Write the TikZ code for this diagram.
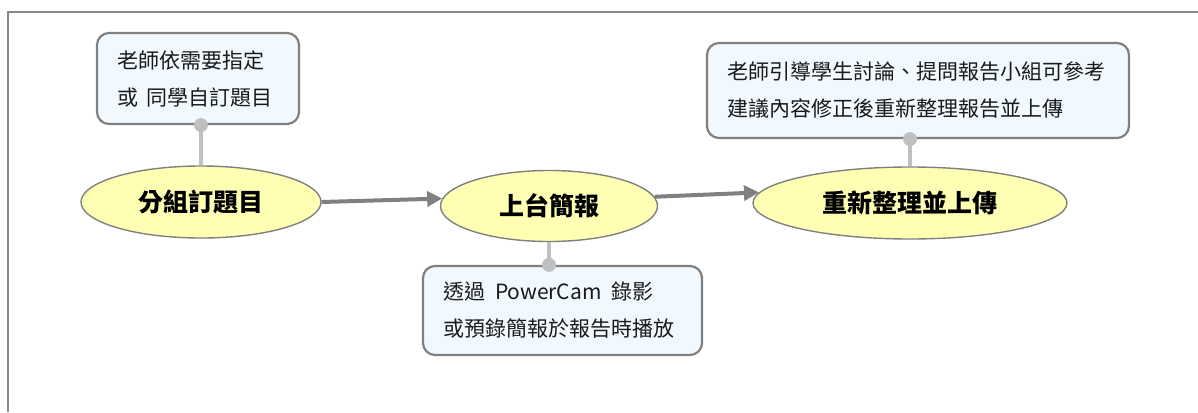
\documentclass[tikz,border=0pt]{standalone}
\usepackage{fontspec}
\setmainfont{Noto Sans CJK TC}
\usetikzlibrary{shapes.geometric,arrows.meta}
\definecolor{framegray}{HTML}{8A8A8A}
\definecolor{linegray}{HTML}{808080}
\definecolor{conngray}{HTML}{C0C0C0}
\definecolor{ellfill}{HTML}{FFFFB4}
\definecolor{notefill}{HTML}{F1F9FF}
\definecolor{txt}{HTML}{1A1A1A}
\begin{document}
\begin{tikzpicture}[x=1pt,y=1pt,
  note/.style={draw=linegray, line width=2.2pt, fill=notefill, rounded corners=12pt,
    inner xsep=20pt, inner ysep=0pt, align=left, text=txt,
    font=\fontsize{21}{37}\selectfont},
  topic/.style={ellipse, draw=linegray, line width=1.4pt, fill=ellfill, inner sep=0pt,
    text=black, font=\fontsize{25}{30}\selectfont\bfseries},
  flow/.style={draw=linegray, line width=4pt, -{Triangle[length=15pt,width=15pt]}},
  conn/.style={draw=conngray, line width=4pt},
  dot/.style={fill=conngray}
]
\useasboundingbox (0,0) rectangle (1198,-412);
\draw[framegray, line width=2pt] (8,-412) -- (8,-12) -- (1198,-12);

% topics
\node[topic, minimum width=240pt, minimum height=72pt] (e1) at (201,-202) {分組訂題目};
\node[topic, minimum width=217pt, minimum height=71pt] (e2) at (549,-206) {上台簡報};
\node[topic, minimum width=314pt, minimum height=72pt] (e3) at (910,-203) {重新整理並上傳};

% notes
\node[note, minimum width=202pt, minimum height=91pt, text width=162pt] (n1) at (198,-78.5)
  {老師依需要指定\\或\hspace{9pt}同學自訂題目};
\node[note, minimum width=279pt, minimum height=89pt, text width=239pt] (n2) at (562.5,-310.5)
  {透過\hspace{10pt}PowerCam\hspace{10pt}錄影\\或預錄簡報於報告時播放};
\node[note, minimum width=422pt, minimum height=95pt, text width=382pt] (n3) at (918,-90.5)
  {老師引導學生討論、提問報告小組可參考\\建議內容修正後重新整理報告並上傳};

% connectors from notes
\draw[conn] (e1.north) -- (e1.north |- n1.south);
\fill[dot] (e1.north |- n1.south) circle (7pt);
\draw[conn] (e2.south) -- (e2.south |- n2.north);
\fill[dot] (e2.south |- n2.north) circle (7pt);
\draw[conn] (e3.north) -- (e3.north |- n3.south);
\fill[dot] (e3.north |- n3.south) circle (7pt);

% flow arrows
\draw[flow] (e1.east) -- (e2.176);
\draw[flow] (e2.5) -- (e3.176);
\end{tikzpicture}
\end{document}
